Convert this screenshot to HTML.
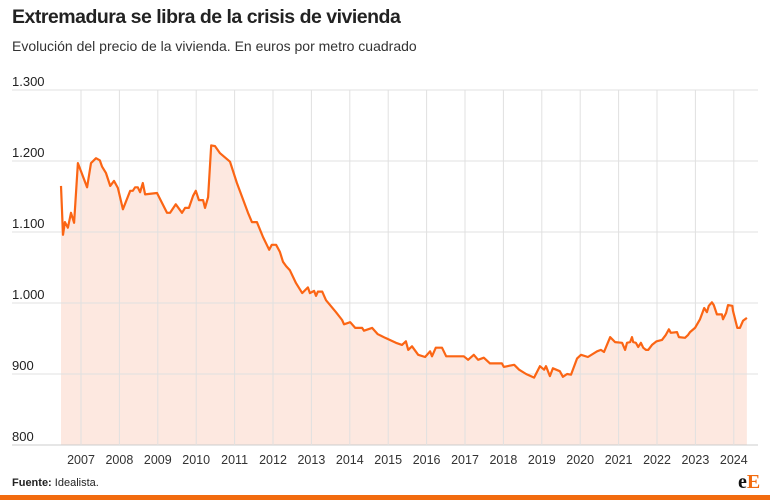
<!DOCTYPE html>
<html><head><meta charset="utf-8"><style>
body{margin:0;background:#fff;font-family:"Liberation Sans",sans-serif;}
#wrap{position:relative;width:770px;height:500px;overflow:hidden;}
</style></head><body>
<div id="wrap">
<div style="position:absolute;left:12px;top:6px;font-size:19.5px;font-weight:bold;color:#222;letter-spacing:-0.5px">Extremadura se libra de la crisis de vivienda</div>
<div style="position:absolute;left:12px;top:38px;font-size:14px;color:#333">Evolución del precio de la vivienda. En euros por metro cuadrado</div>
<svg id="chart" width="770" height="500" style="position:absolute;left:0;top:0"></svg>
<div style="position:absolute;left:12px;top:477px;font-size:11px;color:#222"><b>Fuente:</b> Idealista.</div>
<div style="position:absolute;left:738px;top:471px;font-family:'Liberation Serif',serif;font-weight:bold;font-size:20px;line-height:22px"><span style="color:#111">e</span><span style="color:#f26b0f">E</span></div>
<div style="position:absolute;left:0;top:495px;width:770px;height:5px;background:#f26b0f"></div>
</div>
<script>
const dates=[2006.48,2006.53,2006.58,2006.66,2006.74,2006.82,2006.92,2007.16,2007.26,2007.39,2007.49,2007.55,2007.65,2007.76,2007.86,2007.96,2008.09,2008.28,2008.35,2008.41,2008.48,2008.54,2008.61,2008.67,2008.98,2009.24,2009.32,2009.47,2009.63,2009.71,2009.81,2009.92,2009.99,2010.07,2010.18,2010.23,2010.31,2010.39,2010.49,2010.62,2010.88,2011.06,2011.35,2011.45,2011.58,2011.74,2011.90,2011.97,2012.08,2012.18,2012.26,2012.34,2012.44,2012.60,2012.76,2012.91,2012.96,2013.07,2013.12,2013.17,2013.28,2013.38,2013.64,2013.80,2013.85,2014.01,2014.14,2014.32,2014.37,2014.58,2014.73,2014.92,2015.20,2015.36,2015.46,2015.52,2015.62,2015.78,2015.96,2016.09,2016.14,2016.24,2016.40,2016.51,2016.97,2017.08,2017.23,2017.34,2017.49,2017.65,2017.96,2018.01,2018.28,2018.41,2018.59,2018.80,2018.95,2019.06,2019.11,2019.21,2019.29,2019.47,2019.55,2019.66,2019.76,2019.92,2020.02,2020.20,2020.44,2020.54,2020.62,2020.78,2020.91,2021.09,2021.17,2021.22,2021.30,2021.35,2021.38,2021.45,2021.51,2021.58,2021.64,2021.71,2021.77,2021.87,2021.99,2022.13,2022.23,2022.31,2022.36,2022.52,2022.57,2022.73,2022.81,2022.86,2022.99,2023.12,2023.23,2023.30,2023.35,2023.43,2023.48,2023.56,2023.69,2023.72,2023.80,2023.85,2023.96,2023.98,2024.09,2024.16,2024.24,2024.34];
const prices=[1165,1096,1114,1106,1127,1113,1197,1163,1197,1204,1201,1192,1183,1165,1172,1162,1132,1158,1158,1163,1163,1156,1169,1153,1155,1127,1127,1139,1127,1134,1134,1151,1158,1145,1145,1134,1149,1222,1221,1211,1199,1169,1127,1114,1114,1093,1075,1082,1082,1072,1058,1052,1046,1028,1014,1022,1014,1017,1010,1016,1016,1004,987,976,970,973,965,965,961,965,956,951,944,941,946,934,939,927,924,932,925,937,937,925,925,920,927,920,923,915,915,910,913,906,900,895,911,906,911,897,908,904,896,900,899,922,927,924,932,934,931,952,945,944,934,944,945,952,945,944,938,944,937,934,934,941,946,948,955,963,958,959,952,951,955,959,965,977,993,987,996,1001,997,984,984,977,986,997,996,989,965,965,975,979];
const yTicks=[800,900,1000,1100,1200,1300];
const yTickLabels=["800","900","1.000","1.100","1.200","1.300"];
const years=[2007,2008,2009,2010,2011,2012,2013,2014,2015,2016,2017,2018,2019,2020,2021,2022,2023,2024];

const svg=document.getElementById('chart');
const NS='http://www.w3.org/2000/svg';
const X=d=>81+(d-2007)*38.4;
const Y=v=>445-(v-800)*0.71;
function mk(tag,attrs){const e=document.createElementNS(NS,tag);for(const k in attrs)e.setAttribute(k,attrs[k]);svg.appendChild(e);return e;}

let pts=dates.map((d,i)=>X(d).toFixed(1)+','+Y(prices[i]).toFixed(1));
const area=mk('path',{d:'M'+X(dates[0])+','+Y(800)+' L'+pts.join(' L')+' L'+X(dates[dates.length-1])+','+Y(800)+' Z',fill:'#fde8e0'});



yTicks.forEach((t,i)=>{
  const l=mk('line',{x1:12,x2:758,y1:Y(t),y2:Y(t),stroke:t===800?'#ccc':'#e0e0e0','stroke-width':1});
  
  
  const tx=mk('text',{x:12,y:Y(t)-4,'font-size':13,fill:'#222','font-family':'Liberation Sans, sans-serif'});
  tx.textContent=yTickLabels[i];
  
  
});
years.forEach(yr=>{
  const l=mk('line',{x1:X(yr),x2:X(yr),y1:Y(1300),y2:Y(800),stroke:'#e0e0e0','stroke-width':1});
  
  
  const tx=mk('text',{x:X(yr),y:464,'font-size':12.5,fill:'#333','text-anchor':'middle','font-family':'Liberation Sans, sans-serif'});
  tx.textContent=yr;
  
  
});
const line=mk('polyline',{points:pts.join(' '),fill:'none',stroke:'#fb6514','stroke-width':2.2,'stroke-linejoin':'round'});


</script>
</body></html>
